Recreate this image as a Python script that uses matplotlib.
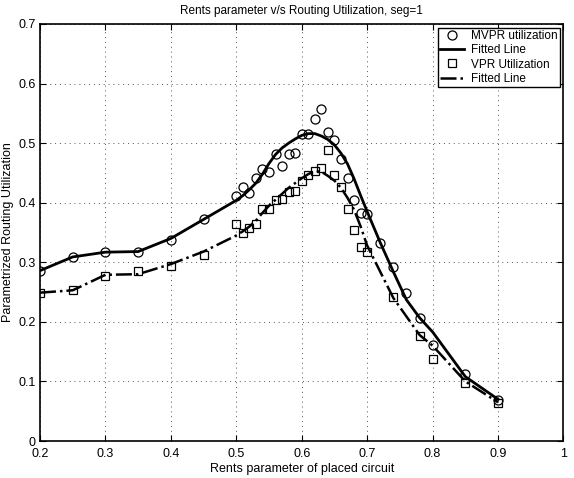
import matplotlib
matplotlib.use("Agg")
import matplotlib.pyplot as plt

plt.rcParams['font.family'] = ['Liberation Sans', 'DejaVu Sans']

# MVPR utilization (circles) and its fitted line
mvpr_x = [0.2, 0.25, 0.3, 0.35, 0.4, 0.45, 0.5, 0.51, 0.52, 0.53, 0.54, 0.55,
          0.56, 0.57, 0.58, 0.59, 0.6, 0.61, 0.62, 0.63, 0.64, 0.65, 0.66, 0.67,
          0.68, 0.69, 0.7, 0.72, 0.74, 0.76, 0.78, 0.8, 0.85, 0.9]
mvpr_y = [0.286, 0.309, 0.317, 0.317, 0.338, 0.372, 0.411, 0.426, 0.417, 0.442,
          0.456, 0.451, 0.481, 0.461, 0.482, 0.483, 0.516, 0.516, 0.540, 0.557,
          0.518, 0.505, 0.473, 0.442, 0.405, 0.382, 0.381, 0.333, 0.292, 0.249,
          0.206, 0.161, 0.112, 0.069]
mvpr_fit = [0.286, 0.309, 0.317, 0.318, 0.340, 0.372, 0.404, 0.412, 0.422, 0.433,
            0.448, 0.466, 0.481, 0.492, 0.500, 0.507, 0.513, 0.516, 0.516, 0.512,
            0.506, 0.497, 0.483, 0.465, 0.440, 0.412, 0.385, 0.333, 0.284, 0.237,
            0.207, 0.183, 0.108, 0.070]

# VPR utilization (squares) and its fitted line
vpr_x = [0.2, 0.25, 0.3, 0.35, 0.4, 0.45, 0.5, 0.51, 0.52, 0.53, 0.54, 0.55,
         0.56, 0.57, 0.58, 0.59, 0.6, 0.61, 0.62, 0.63, 0.64, 0.65, 0.66, 0.67,
         0.68, 0.69, 0.7, 0.74, 0.78, 0.8, 0.85, 0.9]
vpr_y = [0.249, 0.254, 0.277, 0.286, 0.294, 0.312, 0.365, 0.349, 0.358, 0.365,
         0.390, 0.389, 0.404, 0.406, 0.418, 0.419, 0.436, 0.446, 0.453, 0.459,
         0.489, 0.447, 0.426, 0.390, 0.355, 0.325, 0.318, 0.241, 0.176, 0.137,
         0.098, 0.063]
vpr_fit = [0.249, 0.253, 0.279, 0.280, 0.297, 0.318, 0.345, 0.352, 0.360, 0.370,
           0.383, 0.395, 0.405, 0.415, 0.425, 0.433, 0.441, 0.448, 0.453, 0.452,
           0.445, 0.437, 0.425, 0.408, 0.388, 0.360, 0.328, 0.240, 0.178, 0.160,
           0.100, 0.065]

xticks = [0.2, 0.3, 0.4, 0.5, 0.6, 0.7, 0.8, 0.9, 1.0]
xtick_labels = ['0.2', '0.3', '0.4', '0.5', '0.6', '0.7', '0.8', '0.9', '1']
yticks = [0, 0.1, 0.2, 0.3, 0.4, 0.5, 0.6, 0.7]
ytick_labels = ['0', '0.1', '0.2', '0.3', '0.4', '0.5', '0.6', '0.7']

fig = plt.figure(figsize=(5.74, 4.78), dpi=100)
ax = fig.add_axes([0.0697, 0.0774, 0.912, 0.8724])

ax.plot(mvpr_x, mvpr_y, 'o', mfc='none', mec='black', ms=6.5, mew=0.9,
        label='MVPR utilization')
ax.plot(mvpr_x, mvpr_fit, '-', color='black', lw=2, label='Fitted Line')
ax.plot(vpr_x, vpr_y, 's', mfc='none', mec='black', ms=6, mew=0.9,
        label='VPR Utilization')
ax.plot(vpr_x, vpr_fit, '-.', color='black', lw=1.8, label='Fitted Line')

ax.set_xlim(0.2, 1.0)
ax.set_ylim(0, 0.7)
ax.set_xticks(xticks)
ax.set_xticklabels(xtick_labels)
ax.set_yticks(yticks)
ax.set_yticklabels(ytick_labels)
ax.tick_params(direction='in', top=True, right=True, length=4, labelsize=9)
ax.tick_params(axis='x', pad=5)
ax.tick_params(axis='y', pad=3)
ax.grid(True, linestyle=(0, (1, 4)), color='#555555', linewidth=0.7)
for s in ax.spines.values():
    s.set_linewidth(1.2)

ax.set_title('Rents parameter v/s Routing Utilization, seg=1', fontsize=8.5, pad=7)
ax.set_xlabel('Rents parameter of placed circuit', fontsize=9, labelpad=2)
ax.set_ylabel('Parametrized Routing Utilization', fontsize=9, labelpad=3)

leg = ax.legend(loc='upper right', fontsize=8.5, fancybox=False, edgecolor='black',
                framealpha=1, borderaxespad=0.3, handlelength=2.0, borderpad=0.2,
                labelspacing=0.2, handletextpad=0.6)
leg.get_frame().set_linewidth(1.0)

fig.savefig('out.png', dpi=100)
